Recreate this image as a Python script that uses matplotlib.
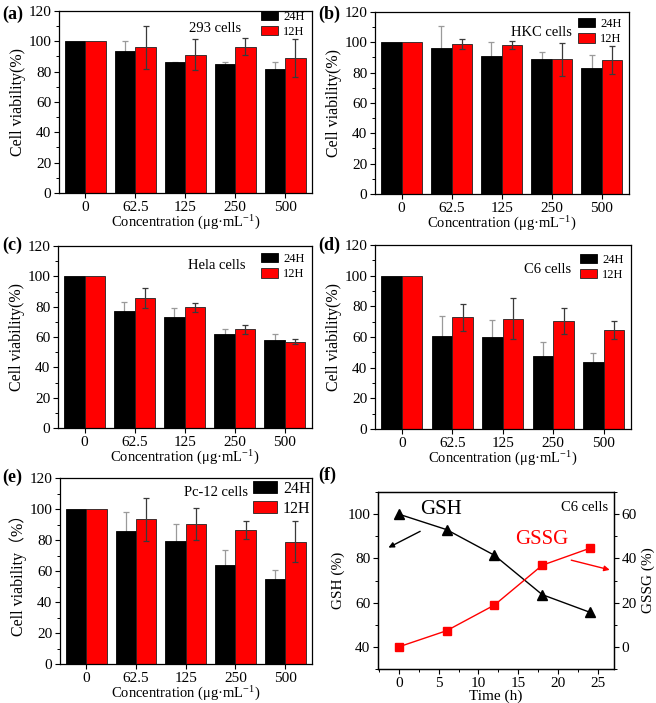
import matplotlib
matplotlib.use("Agg")
import matplotlib.pyplot as plt
from matplotlib.ticker import MultipleLocator
import numpy as np

plt.rcParams['font.family'] = ['Liberation Serif', 'Noto Sans CJK SC', 'DejaVu Sans']
plt.rcParams['mathtext.fontset'] = 'custom'
plt.rcParams['mathtext.rm'] = 'Liberation Serif'
plt.rcParams['mathtext.it'] = 'Liberation Serif:italic'

# ---------------- data ----------------
concentrations = ["0", "62.5", "125", "250", "500"]

a_24 = [100, 93.6, 86.3, 85.2, 81.6]
a_24_err = [0, 6.8, 0.4, 1.3, 4.8]
a_12 = [100, 96.2, 91.1, 96.5, 89.0]
a_12_err = [0, 14.2, 10.3, 5.7, 12.7]

b_24 = [100, 96.0, 91.3, 89.0, 83.2]
b_24_err = [0, 15.0, 9.2, 4.8, 8.4]
b_12 = [100, 98.9, 98.2, 88.8, 88.4]
b_12_err = [0, 3.0, 2.4, 10.7, 9.3]

c_24 = [100, 77.1, 72.9, 62.0, 58.3]
c_24_err = [0, 6.0, 6.0, 3.4, 3.4]
c_12 = [100, 85.6, 79.7, 65.1, 57.0]
c_12_err = [0, 6.7, 3.0, 2.9, 1.7]

d_24 = [100, 60.4, 60.0, 47.6, 43.8]
d_24_err = [0, 13.0, 11.0, 9.4, 6.0]
d_12 = [100, 72.8, 72.0, 70.5, 64.5]
d_12_err = [0, 9.0, 13.2, 8.3, 6.0]

e_24 = [100, 85.5, 79.3, 63.9, 54.9]
e_24_err = [0, 12.3, 11.0, 9.4, 5.5]
e_12 = [100, 93.3, 90.2, 86.5, 79.0]
e_12_err = [0, 14.0, 10.4, 5.6, 13.0]

f_time = [0, 6, 12, 18, 24]
f_gsh = [100, 93.0, 81.4, 63.6, 55.6]
f_gssg = [0, 7.3, 18.9, 36.9, 44.6]

series_labels = ["24H", "12H"]

# ---------------- figure ----------------
W, H = 656, 703
fig = plt.figure(figsize=(W / 100, H / 100), dpi=100)

def px_axes(x0, y0, x1, y1):
    return fig.add_axes([x0 / W, 1 - y1 / H, (x1 - x0) / W, (y1 - y0) / H])

BLACK = "#000000"
RED = "#FF0000"

panels = [
    dict(box=(59, 11, 312, 193), d24=a_24, e24=a_24_err, d12=a_12, e12=a_12_err,
         txt="293 cells", txy=(0.617, 0.905), leg=(0.99, 1.03), lfs=9, hl=1.4, ylab="Cell viability(%)"),
    dict(box=(375, 12, 629, 194), d24=b_24, e24=b_24_err, d12=b_12, e12=b_12_err,
         txt="HKC cells", txy=(0.655, 0.89), leg=(0.99, 0.995), lfs=9, hl=1.4, ylab="Cell viability(%)"),
    dict(box=(58, 246, 312, 428), d24=c_24, e24=c_24_err, d12=c_12, e12=c_12_err,
         txt="Hela cells", txy=(0.626, 0.895), leg=(0.99, 0.99), lfs=9, hl=1.4, ylab="Cell viability(%)"),
    dict(box=(375, 245, 631, 429), d24=d_24, e24=d_24_err, d12=d_12, e12=d_12_err,
         txt="C6 cells", txy=(0.676, 0.865), leg=(0.99, 0.98), lfs=9, hl=1.4, ylab="Cell viability(%)"),
    dict(box=(60, 478, 312, 664), d24=e_24, e24=e_24_err, d12=e_12, e12=e_12_err,
         txt="Pc-12 cells", txy=(0.62, 0.92), leg=(1.02, 1.02), lfs=11.5, hl=1.5, ylab="Cell viability（%）"),
]

x = np.arange(len(concentrations))
bw = 0.41

for p in panels:
    ax = px_axes(*p["box"])
    ax.bar(x - bw / 2, p["d24"], bw, color=BLACK, edgecolor=BLACK, linewidth=0.6,
           label=series_labels[0], zorder=2)
    ax.bar(x + bw / 2, p["d12"], bw, color=RED, edgecolor="#222222", linewidth=0.6,
           label=series_labels[1], zorder=2)
    ax.errorbar(x[1:] - bw / 2, p["d24"][1:], yerr=p["e24"][1:], fmt="none",
                ecolor="#9a9a9a", elinewidth=0.9, capsize=2, capthick=0.9, zorder=1.5)
    ax.errorbar(x[1:] + bw / 2, p["d12"][1:], yerr=p["e12"][1:], fmt="none",
                ecolor="#3a3a3a", elinewidth=0.9, capsize=2, capthick=0.9, zorder=3)
    ax.set_xlim(-0.53, 4.54)
    ax.set_ylim(0, 120)
    ax.set_xticks(x)
    ax.set_xticklabels(concentrations)
    ax.yaxis.set_major_locator(MultipleLocator(20))
    ax.yaxis.set_minor_locator(MultipleLocator(10))
    ax.tick_params(axis="both", which="major", direction="out", length=3.5, width=0.8,
                  labelsize=11, pad=2)
    ax.tick_params(axis="y", which="minor", direction="out", length=2, width=0.7)
    for s in ax.spines.values():
        s.set_linewidth(0.9)
    ax.set_ylabel(p["ylab"], fontsize=11.5, labelpad=2)
    ax.set_xlabel("Concentration (μg·mL$^{-1}$)", fontsize=10.5, labelpad=0)
    ax.text(p["txy"][0], p["txy"][1], p["txt"], transform=ax.transAxes,
            ha="center", va="center", fontsize=10.5)
    ax.legend(loc="upper right", bbox_to_anchor=p["leg"], frameon=False,
              fontsize=p["lfs"], handlelength=p["hl"], handleheight=0.8,
              handletextpad=0.4, labelspacing=0.25, borderaxespad=0.2, borderpad=0.2)

# ---------------- panel f ----------------
axf = px_axes(378, 492, 614, 669)
axf.plot(f_time, f_gsh, color="black", marker="^", markersize=7, linewidth=1.0)
axf.set_xlim(-2.6, 27)
axf.set_ylim(30, 110)
axf.set_xticks([0, 5, 10, 15, 20, 25])
axf.xaxis.set_minor_locator(MultipleLocator(2.5))
axf.set_yticks([40, 60, 80, 100])
axf.yaxis.set_minor_locator(MultipleLocator(10))
axf.set_xlabel("Time (h)", fontsize=11, labelpad=0)
axf.set_ylabel("GSH (%)", fontsize=11, labelpad=2)
axr = axf.twinx()
axr.plot(f_time, f_gssg, color=RED, marker="s", markersize=6, linewidth=1.0)
axr.set_ylim(-10, 70)
axr.set_yticks([0, 20, 40, 60])
axr.yaxis.set_minor_locator(MultipleLocator(10))
axr.set_ylabel("GSSG (%)", fontsize=11, labelpad=3)
for a in (axf, axr):
    a.tick_params(axis="both", which="major", direction="out", length=3.5, width=0.8,
                  labelsize=11, pad=2)
    a.tick_params(axis="both", which="minor", direction="out", length=2, width=0.7)
    for s in a.spines.values():
        s.set_linewidth(0.9)
axf.text(5.3, 102, "GSH", fontsize=15, ha="center", va="center", color="black")
axf.text(18.0, 88.5, "GSSG", fontsize=15, ha="center", va="center", color=RED)
axf.text(26.3, 103, "C6 cells", fontsize=10.5, ha="right", va="center", color="black")
axf.annotate("", xy=(-1.6, 84.3), xytext=(3.0, 92.8),
             arrowprops=dict(arrowstyle="-|>", color="black", lw=1.0, mutation_scale=8))
axf.annotate("", xy=(26.8, 74.5), xytext=(21.3, 79.5),
             arrowprops=dict(arrowstyle="-|>", color=RED, lw=1.0, mutation_scale=8),
             annotation_clip=False)

# ---------------- panel labels ----------------
for lbl, (px, py) in zip(["(a)", "(b)", "(c)", "(d)", "(e)", "(f)"],
                         [(2, 14), (318, 14), (2, 245), (318, 245), (2, 477), (318, 475)]):
    fig.text(px / W, 1 - py / H, lbl, fontsize=13, fontweight="bold", ha="left", va="center")

fig.savefig("out.png", dpi=100)
